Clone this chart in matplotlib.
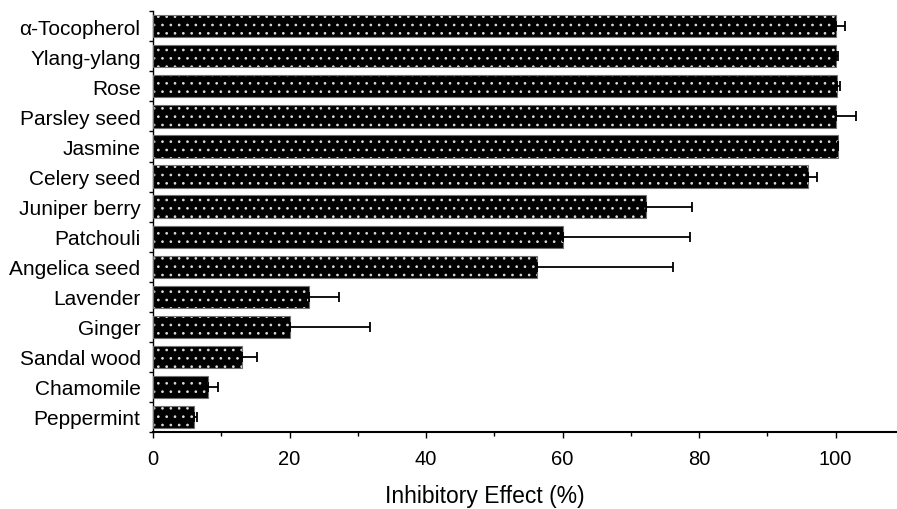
import numpy as np
import matplotlib
matplotlib.use('Agg')
from matplotlib import pyplot as plt

#%% Data

oils   = ['α-Tocopherol', 'Ylang-ylang', 'Rose', 'Parsley seed', 'Jasmine',
          'Celery seed', 'Juniper berry', 'Patchouli', 'Angelica seed',
          'Lavender', 'Ginger', 'Sandal wood', 'Chamomile', 'Peppermint']
effect = [100.0, 100.0, 100.2, 100.0, 100.3, 96.0, 72.2, 60.0, 56.2,
          22.8, 20.0, 13.0, 8.0, 6.0]
err    = [1.4, 0.3, 0.5, 3.0, 0.0, 1.3, 6.7, 18.6, 20.0,
          4.4, 11.8, 2.2, 1.5, 0.5]

#%% Plot

plt.rcParams['font.family'] = ['Liberation Sans', 'DejaVu Sans']
plt.rcParams['hatch.linewidth'] = 0.7

fig = plt.figure(figsize = (8.97, 5.10), dpi = 100)
ax  = fig.add_axes([0.1706, 0.151, 0.8294, 0.825])

ypos = np.arange(len(oils))

# filled bars with white dots, then the outline on top
ax.barh(ypos, effect, height = 0.74, color = 'black', edgecolor = '#dddddd',
        linewidth = 0, hatch = '..', zorder = 2)
ax.barh(ypos, effect, height = 0.74, fill = False, edgecolor = '#707070',
        linewidth = 0.8, zorder = 3)
ax.errorbar(effect, ypos, xerr = [np.zeros(len(err)), err], fmt = 'none',
            ecolor = 'black', elinewidth = 1.3, capsize = 3.3, capthick = 1.3,
            zorder = 4)

ax.set_xlim(0, 109)
ax.set_ylim(len(oils) - 0.5, -0.5)

ax.set_xticks([0, 20, 40, 60, 80, 100])
ax.set_xticks([10, 30, 50, 70, 90], minor = True)
ax.set_yticks(ypos)
ax.set_yticklabels(oils)
ax.set_yticks(np.arange(len(oils) + 1) - 0.5, minor = True)

ax.tick_params(axis = 'x', which = 'major', length = 4, width = 1, pad = 8, labelsize = 14.5)
ax.tick_params(axis = 'x', which = 'minor', length = 3, width = 1)
ax.tick_params(axis = 'y', which = 'major', length = 0, pad = 9, labelsize = 15)
ax.tick_params(axis = 'y', which = 'minor', length = 3, width = 1)

for side in ['top', 'right']:
    ax.spines[side].set_visible(False)
ax.spines['left'].set_linewidth(1.0)
ax.spines['bottom'].set_linewidth(1.5)

ax.set_xlabel('Inhibitory Effect (%)', fontsize = 16.5)
ax.xaxis.set_label_coords(0.446, -0.124)

fig.savefig('out.png', dpi = 100)
